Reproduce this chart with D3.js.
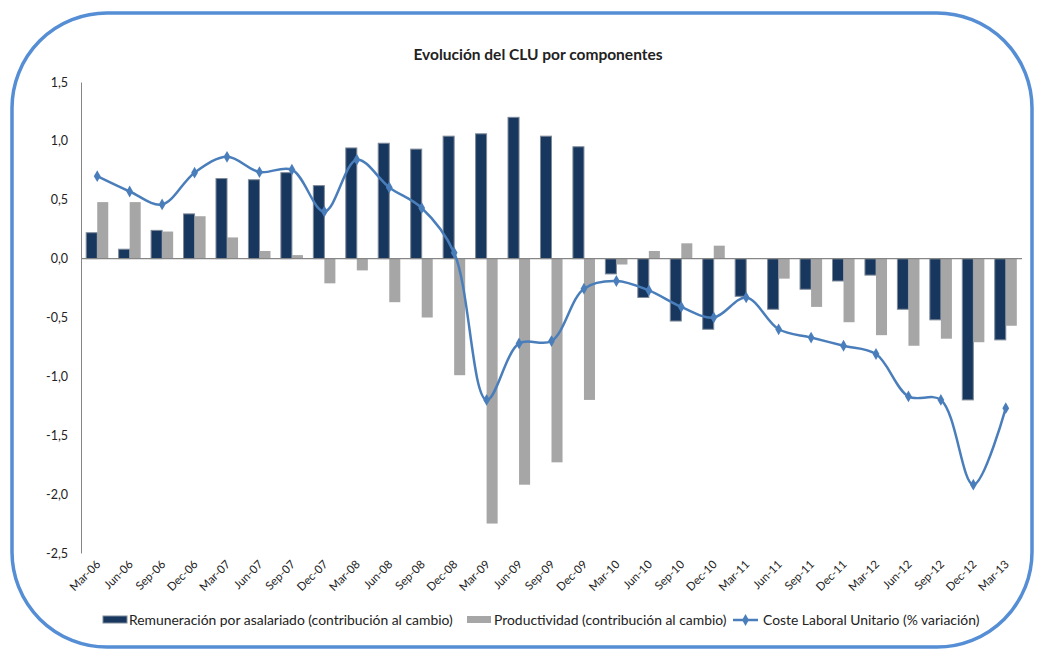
<!DOCTYPE html>
<html>
<head>
<meta charset="utf-8">
<script src="https://cdn.jsdelivr.net/npm/d3@7"></script>
<style>
  html, body { margin: 0; padding: 0; background: #fff; }
  svg { display: block; font-family: Lato, "Open Sans", sans-serif; }
</style>
</head>
<body>
<svg id="chart" width="1038" height="650"></svg>
<script>
// quarters Mar-06 .. Mar-13
const categories = [
  'Mar-06', 'Jun-06', 'Sep-06', 'Dec-06',
  'Mar-07', 'Jun-07', 'Sep-07', 'Dec-07',
  'Mar-08', 'Jun-08', 'Sep-08', 'Dec-08',
  'Mar-09', 'Jun-09', 'Sep-09', 'Dec-09',
  'Mar-10', 'Jun-10', 'Sep-10', 'Dec-10',
  'Mar-11', 'Jun-11', 'Sep-11', 'Dec-11',
  'Mar-12', 'Jun-12', 'Sep-12', 'Dec-12',
  'Mar-13',
];

const remuneracion = [
  0.22, 0.08, 0.24, 0.38,
  0.68, 0.67, 0.73, 0.62,
  0.94, 0.98, 0.93, 1.04,
  1.06, 1.20, 1.04, 0.95,
  -0.13, -0.33, -0.53, -0.60,
  -0.32, -0.43, -0.26, -0.19,
  -0.14, -0.43, -0.52, -1.20,
  -0.69,
];

const productividad = [
  0.48, 0.48, 0.23, 0.36,
  0.18, 0.065, 0.03, -0.21,
  -0.10, -0.37, -0.50, -0.99,
  -2.25, -1.92, -1.73, -1.20,
  -0.05, 0.065, 0.13, 0.11,
  0.0, -0.17, -0.41, -0.54,
  -0.65, -0.74, -0.68, -0.71,
  -0.57,
];

const costeLaboral = [
  0.70, 0.57, 0.46, 0.73,
  0.865, 0.735, 0.755, 0.40,
  0.84, 0.605, 0.43, 0.05,
  -1.20, -0.72, -0.70, -0.255,
  -0.19, -0.27, -0.41, -0.50,
  -0.33, -0.60, -0.67, -0.74,
  -0.81, -1.17, -1.20, -1.92,
  -1.27,
];

const yTicks = [1.5, 1.0, 0.5, 0.0, -0.5, -1.0, -1.5, -2.0, -2.5];

const title = 'Evolución del CLU por componentes';
const legendLabels = [
  'Remuneración por asalariado (contribución al cambio)',
  'Productividad (contribución al cambio)',
  'Coste Laboral Unitario (% variación)',
];

const colors = { rem: '#17375e', prod: '#a6a6a6', line: '#4a7ebb', frame: '#558ed5', axis: '#868686', text: '#222' };

const svg = d3.select('#chart');

// rounded outer frame
svg.append('rect')
  .attr('x', 12).attr('y', 13)
  .attr('width', 1020).attr('height', 634)
  .attr('rx', 95).attr('ry', 95)
  .attr('fill', '#fff')
  .attr('stroke', colors.frame)
  .attr('stroke-width', 3.5);

svg.append('text')
  .attr('x', 538).attr('y', 60)
  .attr('text-anchor', 'middle')
  .attr('font-size', 15.5)
  .attr('font-weight', 'bold')
  .attr('fill', colors.text)
  .text(title);

const margin = { left: 81, right: 1022, top: 82, bottom: 553 };

const x = d3.scaleBand().domain(categories).range([margin.left, margin.right]).paddingInner(0.32).paddingOuter(0.16);
const xc = d => x(d) + x.bandwidth() / 2;
const y = d3.scaleLinear().domain([-2.5, 1.5]).range([margin.bottom, margin.top]);
const xSub = d3.scaleBand().domain(['rem', 'prod']).range([0, x.bandwidth()]);

// y axis
const yAxis = svg.append('g')
  .attr('transform', `translate(${margin.left},0)`)
  .call(d3.axisLeft(y).tickValues(yTicks).tickSize(0).tickPadding(13)
    .tickFormat(d => d3.format('.1f')(d).replace('.', ',').replace('−', '-')));
yAxis.select('.domain').attr('stroke', colors.axis);
yAxis.selectAll('text').attr('font-size', 12.5).attr('fill', colors.text).attr('font-family', 'Lato, sans-serif');

const bars = (vals, key, fill, stroke) => {
  svg.append('g').selectAll('rect')
    .data(vals)
    .join('rect')
    .attr('x', (d, i) => x(categories[i]) + xSub(key))
    .attr('width', xSub.bandwidth())
    .attr('y', d => y(Math.max(0, d)))
    .attr('height', d => Math.abs(y(d) - y(0)))
    .attr('fill', fill)
    .attr('stroke', stroke)
    .attr('stroke-width', stroke === 'none' ? 0 : 1);
};
bars(remuneracion, 'rem', colors.rem, '#7f8a99');
bars(productividad, 'prod', colors.prod, 'none');

// zero line
svg.append('line')
  .attr('x1', margin.left).attr('x2', margin.right)
  .attr('y1', y(0)).attr('y2', y(0))
  .attr('stroke', colors.axis).attr('stroke-width', 1.2);

// x labels, rotated
svg.append('g').selectAll('text')
  .data(categories)
  .join('text')
  .attr('transform', d => `translate(${xc(d) + 4},${margin.bottom + 12}) rotate(-45)`)
  .attr('text-anchor', 'end')
  .attr('font-size', 11.5)
  .attr('fill', colors.text)
  .text(d => d);

// smoothed CLU line
const line = d3.line()
  .x((d, i) => xc(categories[i]))
  .y(d => y(d))
  .curve(d3.curveCatmullRom.alpha(0.5));

svg.append('path')
  .datum(costeLaboral)
  .attr('fill', 'none')
  .attr('stroke', colors.line)
  .attr('stroke-width', 2.5)
  .attr('d', line);

const diamond = d3.symbol().type(d3.symbolDiamond).size(40);
svg.append('g').selectAll('path')
  .data(costeLaboral)
  .join('path')
  .attr('transform', (d, i) => `translate(${xc(categories[i])},${y(d)})`)
  .attr('d', diamond)
  .attr('fill', colors.line);

// legend
const legend = svg.append('g').attr('font-size', 13.9).attr('fill', colors.text);
legend.append('rect').attr('x', 103).attr('y', 616).attr('width', 24).attr('height', 7)
  .attr('fill', colors.rem).attr('stroke', '#7f8a99');
legend.append('text').attr('x', 129).attr('y', 625).text(legendLabels[0]);
legend.append('rect').attr('x', 467).attr('y', 616).attr('width', 24).attr('height', 7)
  .attr('fill', colors.prod);
legend.append('text').attr('x', 494).attr('y', 625).text(legendLabels[1]);
legend.append('line').attr('x1', 733).attr('x2', 758).attr('y1', 620).attr('y2', 620)
  .attr('stroke', colors.line).attr('stroke-width', 2.5);
legend.append('path').attr('transform', 'translate(745.5,620)').attr('d', diamond).attr('fill', colors.line);
legend.append('text').attr('x', 763).attr('y', 625).text(legendLabels[2]);
</script>
</body>
</html>
